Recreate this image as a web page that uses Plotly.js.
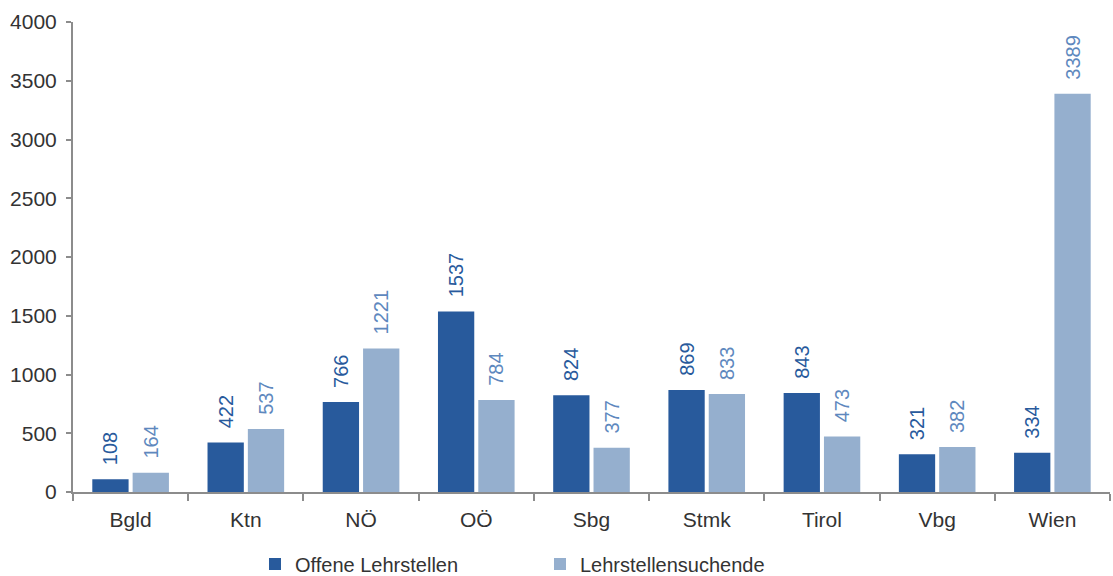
<!DOCTYPE html>
<html><head><meta charset="utf-8">
<script src="https://cdn.plot.ly/plotly-3.0.1.min.js"></script>
<style>body{margin:0;background:#fff}#c{width:1113px;height:576px}</style>
</head><body><div id="c"></div>
<script>
const categories = ["Bgld","Ktn","NÖ","OÖ","Sbg","Stmk","Tirol","Vbg","Wien"];
const offeneLehrstellen = [108,422,766,1537,824,869,843,321,334];
const lehrstellensuchende = [164,537,1221,784,377,833,473,382,3389];
const seriesNames = ["Offene Lehrstellen","Lehrstellensuchende"];
const yTicks = [0,500,1000,1500,2000,2500,3000,3500,4000];

const font = "Liberation Sans, Arial, sans-serif";
const pad = "\u00a0\u00a0";
const traces = [
  {type:"bar", name:seriesNames[0], x:categories, y:offeneLehrstellen,
   marker:{color:"#285A9C"}, text:offeneLehrstellen.map(v => pad + v),
   textposition:"outside", textangle:-90, cliponaxis:false, constraintext:"none",
   outsidetextfont:{family:font,size:20,color:"#285A9C"}, hoverinfo:"x+y"},
  {type:"bar", name:seriesNames[1], x:categories, y:lehrstellensuchende,
   marker:{color:"#95AFCE"}, text:lehrstellensuchende.map(v => pad + v),
   textposition:"outside", textangle:-90, cliponaxis:false, constraintext:"none",
   outsidetextfont:{family:font,size:20,color:"#5E88BE"}, hoverinfo:"x+y"}
];
const layout = {
  width:1113, height:576,
  margin:{l:73,r:3,t:22,b:84,autoexpand:false},
  paper_bgcolor:"#fff", plot_bgcolor:"#fff",
  font:{family:font,size:21,color:"#333"},
  bargap:0.3, bargroupgap:0.1, uniformtext:{mode:false},
  showlegend:true,
  legend:{orientation:"h", x:0.1755, xanchor:"left", y:-0.153, yanchor:"middle",
          entrywidth:240, entrywidthmode:"pixels",
          font:{family:font,size:20,color:"#333"}},
  xaxis:{type:"category", showline:true, linecolor:"#8c8c8c", linewidth:2, tickangle:0,
         ticks:"outside", tickson:"boundaries", ticklen:7, tickwidth:2, tickcolor:"#8c8c8c",
         ticklabelstandoff:8,
         tickfont:{family:font,size:21,color:"#333"}, showgrid:false, zeroline:false},
  yaxis:{range:[0,4000], tickvals:yTicks, ticktext:yTicks.map(String),
         showline:true, linecolor:"#8c8c8c", linewidth:2,
         ticks:"outside", ticklen:5, tickwidth:2, tickcolor:"#8c8c8c",
         ticklabelstandoff:5,
         tickfont:{family:font,size:21,color:"#333"}, showgrid:false, zeroline:false}
};
Plotly.newPlot("c", traces, layout, {displayModeBar:false, staticPlot:true});
</script></body></html>
